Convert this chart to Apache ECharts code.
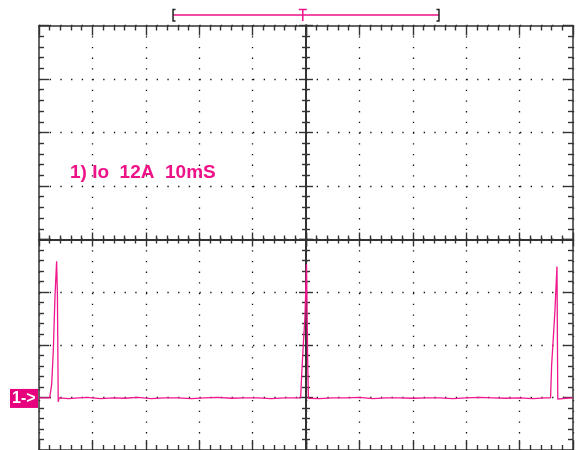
<!DOCTYPE html>
<html lang="en">
<head>
    <meta charset="UTF-8">
    <title>Io 12A 10mS</title>
    <script src="https://cdn.jsdelivr.net/npm/echarts@6/dist/echarts.min.js"></script>
    <style>
        html, body { margin: 0; padding: 0; background: #fff; }
    </style>
</head>
<body>
    <div id="scope" style="width: 576px;height:450px;"></div>
    <script>
        // trace data: time (ms), current (A) -- 10 ms/div, 12 A/div
        var traceTime = [0, 1.0, 2.0, 2.3, 2.38, 2.68, 3.0, 3.3, 3.45, 3.6, 3.75, 5.5, 7.5, 9.0, 11.5, 14.0, 16.0, 18.5, 21.0, 23.5,
            26.0, 28.5, 31.0, 33.5, 36.0, 38.5, 41.0, 43.5, 46.0, 48.0, 49.0, 49.2, 49.5, 49.8, 50.1, 50.3, 50.45, 50.6, 52.5, 55.0,
            57.5, 60.0, 62.5, 65.0, 67.5, 70.0, 72.5, 75.0, 77.5, 80.0, 82.5, 85.0, 87.5, 90.0, 92.5, 95.0, 95.8, 96.0, 96.3, 96.6,
            97.0, 97.15, 97.3, 98.5, 100];
        var traceAmps = [-0.2, -0.2, -0.2, -0.2, 2.9, 10.5, 22.9, 30.7, 22.9, -1.1, -0.2, -0.4, -0.2, -0.1, -0.4, -0.2, -0.3, -0.1, -0.4, -0.2,
            -0.2, -0.4, -0.2, -0.1, -0.3, -0.2, -0.2, -0.4, -0.2, -0.2, -0.2, 5.2, 12.0, 17.9, 30.0, 9.4, -0.3, -0.2, -0.4, -0.2,
            -0.2, -0.1, -0.4, -0.2, -0.2, -0.3, -0.2, -0.2, -0.4, -0.2, -0.1, -0.2, -0.3, -0.2, -0.4, -0.2, -0.2, 7.2, 13.1, 19.1,
            29.5, -0.5, -0.2, -0.3, -0.2];
        var channelLabel = '1) Io  12A  10mS';
        var memWindow = [25.1, 74.9];   // bracket ends on the top bar (ms)
        var trigTime = 49.4;            // T marker (ms)

        var pink = '#ee1289';
        var frame = '#333';

        var chart = echarts.init(document.getElementById('scope'));

        // 4 quadrants for the graticule, 1 full grid for the trace
        var L = 39, T = 25.5, W = 267, H = 214;
        var grids = [
            { left: L, top: T, width: W, height: H },
            { left: L + W, top: T, width: W, height: H },
            { left: L, top: T + H, width: W, height: H },
            { left: L + W, top: T + H, width: W, height: H },
            { left: L, top: T, width: 2 * W, height: 2 * H }
        ];

        function gratAxis(grid, pos, max, outer, split) {
            return {
                type: 'value', gridIndex: grid, position: pos, min: 0, max: max, interval: 1,
                axisLabel: { show: false },
                axisLine: { show: true, onZero: false, lineStyle: { color: frame, width: outer ? 1.5 : 2 } },
                axisTick: { show: true, inside: true, length: outer ? 10 : 7, lineStyle: { color: frame, width: 1.4 } },
                minorTick: { show: true, splitNumber: 5, length: outer ? 5 : 4, lineStyle: { color: frame, width: 1.4 } },
                splitLine: { show: split, lineStyle: { color: '#111', width: 1.3, type: [1.3, 9.4] } }
            };
        }

        var xAxes = [
            gratAxis(0, 'top', 5, true, true), gratAxis(0, 'bottom', 5, false, false),
            gratAxis(1, 'top', 5, true, true), gratAxis(1, 'bottom', 5, false, false),
            gratAxis(2, 'top', 5, false, true), gratAxis(2, 'bottom', 5, true, false),
            gratAxis(3, 'top', 5, false, true), gratAxis(3, 'bottom', 5, true, false),
            { type: 'value', gridIndex: 4, min: 0, max: 100, show: false }
        ];
        var yAxes = [
            gratAxis(0, 'left', 4, true, true), gratAxis(0, 'right', 4, false, false),
            gratAxis(1, 'left', 4, false, true), gratAxis(1, 'right', 4, true, false),
            gratAxis(2, 'left', 4, true, true), gratAxis(2, 'right', 4, false, false),
            gratAxis(3, 'left', 4, false, true), gratAxis(3, 'right', 4, true, false),
            { type: 'value', gridIndex: 4, min: -12, max: 84, show: false }
        ];

        var option = {
            animation: false,
            backgroundColor: '#fff',
            title: {
                text: channelLabel, left: 70, top: 163, padding: 0,
                textStyle: { color: pink, fontSize: 19, fontWeight: 'bold', fontFamily: 'Liberation Sans' }
            },
            grid: grids,
            xAxis: xAxes,
            yAxis: yAxes,
            series: [{
                type: 'line',
                xAxisIndex: 8, yAxisIndex: 8,
                data: traceTime.map(function (t, i) { return [t, traceAmps[i]]; }),
                showSymbol: false,
                lineStyle: { color: '#f0168c', width: 1.3 },
                z: 5
            }]
        };
        chart.setOption(option);

        // top memory bar and channel marker placed from the axes
        var xl = chart.convertToPixel({ xAxisIndex: 8 }, memWindow[0]);
        var xr = chart.convertToPixel({ xAxisIndex: 8 }, memWindow[1]);
        var xt = chart.convertToPixel({ xAxisIndex: 8 }, trigTime);
        var y0 = chart.convertToPixel({ yAxisIndex: 8 }, 0);
        chart.setOption({
            graphic: [
                { type: 'line', shape: { x1: xl, y1: 15, x2: xr, y2: 15 }, style: { stroke: pink, lineWidth: 1.5 } },
                { type: 'polyline', shape: { points: [[xl + 2.5, 9.5], [xl, 9.5], [xl, 21], [xl + 2.5, 21]] }, style: { stroke: '#222', lineWidth: 1.5, fill: null } },
                { type: 'polyline', shape: { points: [[xr - 2.5, 9.5], [xr, 9.5], [xr, 21], [xr - 2.5, 21]] }, style: { stroke: '#222', lineWidth: 1.5, fill: null } },
                { type: 'line', shape: { x1: xt - 4, y1: 9.5, x2: xt + 4, y2: 9.5 }, style: { stroke: pink, lineWidth: 1.5 } },
                { type: 'line', shape: { x1: xt, y1: 9.5, x2: xt, y2: 21 }, style: { stroke: pink, lineWidth: 1.5 } },
                { type: 'rect', shape: { x: 10, y: y0 - 8, width: 28, height: 19 }, style: { fill: '#e6007e' } },
                {
                    type: 'text', x: 12, y: y0 + 1.5,
                    style: { text: '1->', fill: '#fff', font: 'bold 16px "Liberation Sans"', verticalAlign: 'middle' }
                }
            ]
        });
    </script>
</body>
</html>
